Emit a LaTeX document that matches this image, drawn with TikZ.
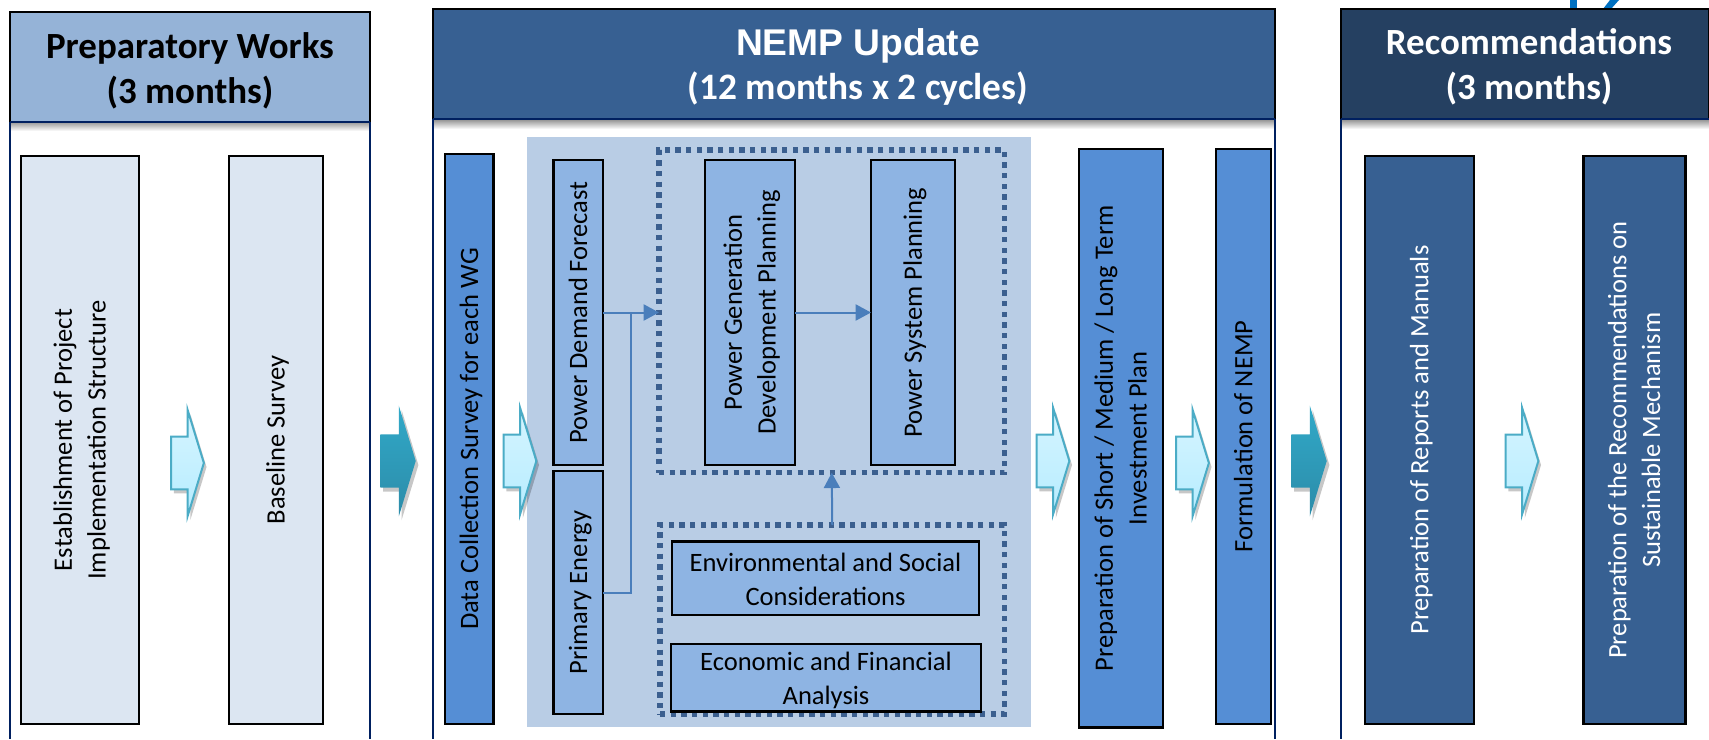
\documentclass[tikz,border=0pt]{standalone}
\usepackage{fontspec}
\usepackage{graphicx}
\usetikzlibrary{shapes.arrows,shadows,arrows.meta}
\setmainfont{Carlito}
\newfontfamily\arialb[BoldFont=Liberation Sans Bold]{Liberation Sans}
\definecolor{navyl}{HTML}{002060}
\definecolor{hdrA}{HTML}{95B3D7}
\definecolor{hdrB}{HTML}{376092}
\definecolor{hdrC}{HTML}{254061}
\definecolor{paleB}{HTML}{DCE6F2}
\definecolor{midB}{HTML}{558ED5}
\definecolor{softB}{HTML}{8EB4E3}
\definecolor{bgB}{HTML}{B9CDE5}
\definecolor{connB}{HTML}{4A7EBB}
\definecolor{dotB}{HTML}{3B5F8F}
\definecolor{arrEdge}{HTML}{4BACC6}
\definecolor{logoB}{HTML}{0070C0}
\definecolor{lightT}{HTML}{D6F5FF}
\definecolor{lightD}{HTML}{B6ECFF}
\definecolor{darkT}{HTML}{31A9C8}
\definecolor{darkD}{HTML}{2C8CA9}
\newcommand\bx[7]{\node[#6,minimum width={(#4-(#2))*0.75pt},minimum height={(#5-(#3))*0.75pt}] (#1) at ({(#2+#4)/2},{(#3+#5)/2}) {#7};}
\newcommand\vt[1]{\hspace*{3pt}\rotatebox{90}{\begin{tabular}{@{}c@{}}#1\end{tabular}}}
\newcommand\hzt[1]{\raisebox{-2.4pt}[\height][\depth]{\begin{tabular}{@{}c@{}}#1\end{tabular}}}
\newcommand\arrl[3]{\node[lightarrow] (#1) at (#2,#3) {\rule{0pt}{38pt}};}
\newcommand\arrd[3]{\node[darkarrow] (#1) at (#2,#3) {\rule{0pt}{39.5pt}};}
\tikzset{
  x=0.75pt,y=-0.75pt,
  bodytext/.style={font=\fontsize{19.9}{25.3}\selectfont},
  boxn/.style={draw=black,line width=2pt,inner sep=0pt,outer sep=0pt,bodytext,align=center,
     drop shadow={shadow xshift=1pt,shadow yshift=-1pt,opacity=.25,fill=black}},
  pale/.style={boxn,fill=paleB},
  midbox/.style={boxn,fill=midB},
  softbox/.style={boxn,fill=softB},
  deepbox/.style={boxn,fill=hdrB,text=white},
  header/.style={inner sep=0pt,outer sep=0pt,draw=black,line width=1.1pt},
  titletext/.style={inner sep=0pt,outer sep=0pt,align=center,font=\fontsize{27.7}{33.5}\selectfont\bfseries},
  dotbox/.style={draw=dotB,line width=4pt,dash pattern=on 4pt off 4pt,inner sep=0pt,outer sep=0pt},
  panelline/.style={draw=navyl,line width=1.6pt},
  conn/.style={draw=connB,line width=1.5pt},
  connarrow/.style={conn,-{Triangle[length=11.5pt,width=12pt,fill=connB]}},
  blockbase/.style={single arrow,inner sep=0pt,outer sep=0pt,single arrow tip angle=146,
     drop shadow={shadow xshift=2pt,shadow yshift=-3pt,opacity=.22,fill=black}},
  lightarrow/.style={blockbase,minimum height=24.5pt,single arrow head extend=20pt,draw=arrEdge,line width=1.5pt,top color=lightT,bottom color=lightD},
  darkarrow/.style={blockbase,minimum height=26.5pt,single arrow head extend=21.5pt,draw=none,top color=darkT,bottom color=darkD},
}
\begin{document}
\begin{tikzpicture}
\useasboundingbox (0,0) rectangle (1709,739);
\fill[white] (0,0) rectangle (1709,739);
% logo fragments above the last header
\fill[logoB] (1570,0) rectangle (1577,9);
\fill[logoB] (1610,0) -- (1619,0) -- (1611,9) -- (1603,9) -- cycle;
% header drop shadows
\shade[top color=black!40,bottom color=white] (10,122) rectangle (370,131);
\shade[top color=black!40,bottom color=white] (433,120) rectangle (1275,129);
\shade[top color=black!40,bottom color=white] (1341,120) rectangle (1709,129);
% headers
\bx{hp}{10}{12}{370}{122}{header,fill=hdrA}{}
\bx{hn}{433}{9}{1275}{119}{header,fill=hdrB}{}
\bx{hr}{1341}{9}{1708.5}{119}{header,fill=hdrC}{}
\node[titletext] (tp) at (190,71) {Preparatory Works\\(3 months)};
\node[inner sep=0pt,outer sep=0pt,align=center,text=white] (tn) at (858,67) {{\arialb\fontsize{27.9}{34}\selectfont\bfseries NEMP Update}\\[5pt]{\fontsize{28}{34}\selectfont\bfseries (12 months x 2 cycles)}};
\node[titletext,text=white] (tr) at (1529,67) {Recommendations\\(3 months)};
\coordinate (bot) at (0,739);
\draw[panelline] (hp.south west) -- (hp.south west |- bot);
\draw[panelline] (hp.south east) -- (hp.south east |- bot);
\draw[panelline] (hp.south west) -- (hp.south east);
\draw[panelline] (hn.south west) -- (hn.south west |- bot);
\draw[panelline] (hn.south east) -- (hn.south east |- bot);
\draw[panelline] (hn.south west) -- (hn.south east);
\draw[panelline] (hr.south west) -- (hr.south west |- bot);
\draw[panelline] (hr.south west) -- (hr.south east);
% light backdrop
\fill[bgB] (527,137) rectangle (1031,727);
% column 1
\bx{est}{21}{156}{139}{724}{pale}{\vt{Establishment of Project\\Implementation Structure}}
\bx{base}{229}{156}{323}{724}{pale}{\vt{Baseline Survey}}
% column 2
\bx{data}{445}{154}{493.5}{724}{midbox}{\vt{Data Collection Survey for each WG}}
\bx{pd}{553.5}{160}{603}{465}{softbox}{\vt{Power Demand Forecast}}
\bx{pe}{553.5}{471}{603}{714}{softbox}{\vt{Primary Energy}}
\bx{dota}{659}{150}{1004.5}{472.7}{dotbox}{}
\bx{dotb}{660}{525}{1004.5}{714}{dotbox}{}
\bx{pg}{705}{160}{795}{465}{softbox}{\vt{Power Generation\\Development Planning}}
\bx{ps}{871}{160}{955}{465}{softbox}{\vt{Power System Planning}}
\bx{env}{672}{541.5}{979}{615}{softbox}{\hzt{Environmental and Social\\Considerations}}
\bx{eco}{671}{645.6}{981}{710}{softbox}{\hzt{Economic and Financial\\Analysis}}
\bx{ppl}{1079}{149}{1163}{727.6}{midbox}{\vt{Preparation of Short / Medium / Long Term\\Investment Plan}}
\bx{fn}{1216}{149}{1271}{724}{midbox}{\vt{Formulation of NEMP}}
% column 3
\bx{rep}{1365}{156}{1474}{724}{deepbox}{\vt{Preparation of Reports and Manuals}}
\bx{rcm}{1583.5}{156}{1685.5}{724}{deepbox}{\vt{Preparation of the Recommendations on\\Sustainable Mechanism}}
% connectors
\coordinate (jn) at (630.6,592);
\draw[connarrow] (pd.east) -- (pd.east -| dota.west);
\draw[conn] (pe.east) -| (jn |- pd.east);
\draw[connarrow] (pg.east) -- (ps.west);
\draw[connarrow] (dotb.north) -- (dota.south);
% block arrows
\arrl{a1}{183.5}{463}
\arrd{d1}{394}{461}
\arrl{a2}{516}{461}
\arrl{a3}{1049}{461}
\arrl{a4}{1188.5}{463}
\arrd{d2}{1305}{461}
\arrl{a5}{1518}{461}
\end{tikzpicture}
\end{document}
